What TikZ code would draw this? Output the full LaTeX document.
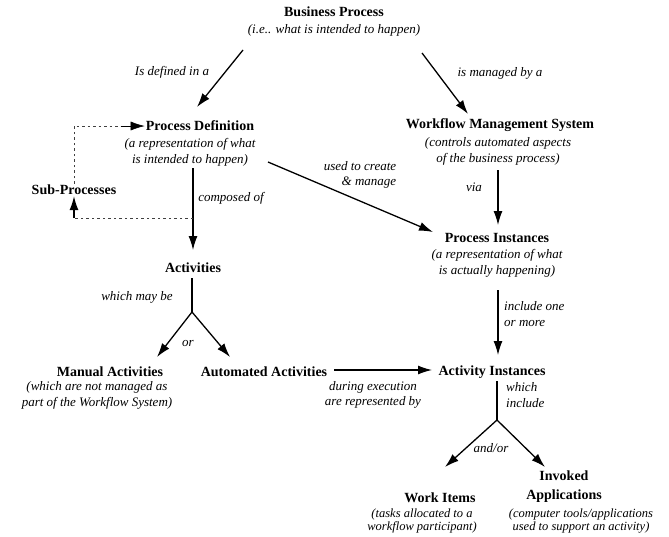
\documentclass[tikz,border=0pt]{standalone}
\usepackage{fontspec}
\setmainfont{Liberation Serif}
\usetikzlibrary{arrows.meta,calc}
\begin{document}
\begin{tikzpicture}[x=1pt,y=-1pt,
  ttl/.style={font=\bfseries\fontsize{14}{19}\selectfont, align=center, inner sep=1pt},
  dsc/.style={font=\itshape\fontsize{13}{16}\selectfont, align=center, inner sep=1pt},
  lbl/.style={font=\itshape\fontsize{13}{15.5}\selectfont, align=left, inner sep=1pt},
  note/.style={font=\itshape\fontsize{12.5}{13.5}\selectfont, align=center, inner sep=1pt},
  arr/.style={-{Latex[length=14pt,width=9pt]}, line width=1.3pt},
  tip/.style={-{Latex[length=14pt,width=9pt]}, line width=0.6pt},
  dsh/.style={dash pattern=on 2.5pt off 3pt, line width=0.7pt, black!75},
]
\useasboundingbox (0,0) rectangle (669,536);

% concepts
\node[ttl] (bpT) at (334,12) {Business Process};
\node[dsc] (bpD) at (334,30) {(i.e.. what is intended to happen)};
\node[ttl] (pdT) at (200,126) {Process Definition};
\node[dsc] (pdD) at (190,152) {(a representation of what\\is intended to happen)};
\node[ttl] (wmT) at (500,125) {Workflow Management System};
\node[dsc] (wmD) at (498,151) {(controls automated aspects\\of the business process)};
\node[ttl] (sub) at (74,190) {Sub-Processes};
\node[ttl] (actT) at (193,268) {Activities};
\node[ttl] (piT) at (497,238) {Process Instances};
\node[dsc] (piD) at (497,263) {(a representation of what\\is actually happening)};
\node[ttl] (maT) at (110,372) {Manual Activities};
\node[dsc] (maD) at (97,395) {(which are not managed as\\part of the Workflow System)};
\node[ttl] (aaT) at (264,372) {Automated Activities};
\node[ttl] (aiT) at (492,372) {Activity Instances};
\node[ttl] (wiT) at (440,498) {Work Items};
\node[note] (wiD) at (422,521) {(tasks allocated to a\\workflow participant)};
\node[ttl] (iaT) at (564,487) {Invoked\\Applications};
\node[note] (iaD) at (581,521) {(computer tools/applications\\used to support an activity)};

% relation labels
\node[lbl] (lDef) at (172,72) {Is defined in a};
\node[lbl] (lMan) at (500,73) {is managed by a};
\node[lbl, align=right] (lUse) at (360,175) {used to create\\\& manage};
\node[lbl] (lVia) at (474,187) {via};
\node[lbl] (lComp) at (231,198) {composed of};
\node[lbl] (lMay) at (137,297) {which may be};
\node[lbl] (lOr) at (188,343) {or};
\node[lbl, anchor=west] (lInc) at (503,314) {include one\\or more};
\node[lbl, align=center] (lDur) at (373,395) {during execution\\are represented by};
\node[lbl, anchor=west] (lWhi) at (505,395) {which\\include};
\node[lbl] (lAnd) at (491,448) {and/or};

% junctions
\coordinate (j1) at ($(actT)+(-1,44)$);
\coordinate (j2) at ($(aiT)+(5,48)$);
\coordinate (j3) at ($(actT)+(0,-50)$);

% main connectors
\draw[arr] ($(bpD)+(-91,20)$) -- ($(pdT)+(-3,-19)$);
\draw[arr] ($(bpD)+(88,23)$) -- ($(wmT)+(-32,-11)$);
\draw[arr] ($(pdD)+(78,10)$) -- ($(piT)+(-64,-6)$);
\draw[arr] ($(wmD)+(0,19)$) -- ($(piT)+(1,-13)$);
\draw[arr] ($(pdD)+(3,16)$) -- ($(actT)+(0,-18)$);
\draw[arr] ($(piD)+(1,27)$) -- ($(aiT)+(6,-17)$);
\draw[line width=1.3pt] ($(actT)+(-1,10)$) -- (j1);
\draw[arr] (j1) -- ($(maT)+(47,-15)$);
\draw[arr] (j1) -- ($(aaT)+(-34,-15)$);
\draw[arr] ($(aaT)+(70,-2)$) -- ($(aiT)+(-60,-2)$);
\draw[line width=1.3pt] ($(aiT)+(5,9)$) -- (j2);
\draw[arr] (j2) -- ($(wiT)+(5,-31)$);
\draw[arr] (j2) -- ($(iaT)+(-19,-20)$);

% sub-process loop
\coordinate (loopBL) at (j3 -| sub);
\coordinate (loopTL) at ($(pdT.west)+(-24,0)$);
\draw[dsh] (j3) -- (loopBL);
\draw[arr] (loopBL) -- (sub.south);
\draw[dsh] (sub.north) |- (loopTL);
\draw[tip] (loopTL) -- (pdT.west);
\end{tikzpicture}
\end{document}
